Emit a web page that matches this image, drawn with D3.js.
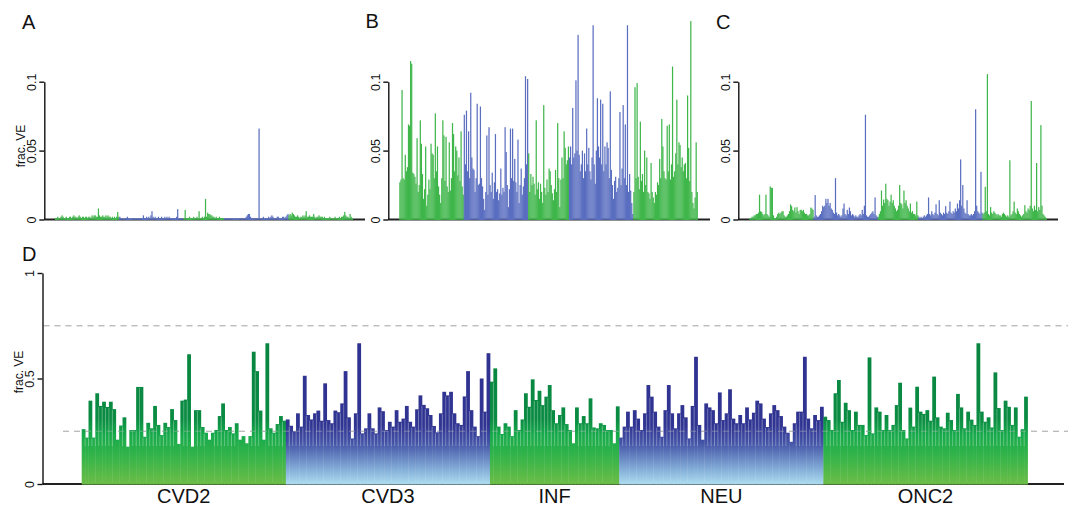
<!DOCTYPE html>
<html>
<head>
<meta charset="utf-8">
<script src="https://cdn.jsdelivr.net/npm/d3@7"></script>
<style>
    body { margin: 0; background: #fff; }
    text { font-family: "Liberation Sans", Arial, Helvetica, sans-serif; fill: #111; }
</style>
</head>
<body>
<div id="chart"></div>
<script>
// groups along the x axis, same order in every panel
const groups = ["CVD2", "CVD3", "INF", "NEU", "ONC2"];
const groupKind = ["green", "blue", "green", "blue", "green"];

const ticksSmall = [0, 0.05, 0.1];
const ticksD = [0, 0.5, 1];
const guidesD = [0.25, 0.75];

// panel A, frac. VE per gene, one array per group
const fracA = [
    [0.001,0.001,0.002,0.001,0.001,0.002,0.003,0.002,0.001,0.001,
     0.002,0.001,0.001,0.002,0.002,0.001,0.002,0.003,0.002,0.002,
     0.001,0.002,0.003,0.002,0.001,0.002,0.002,0.001,0.002,0.002,
     0.001,0.002,0.002,0.001,0.003,0.002,0.003,0.003,0.002,0.002,
     0.008,0.003,0.002,0.002,0.003,0.002,0.002,0.003,0.002,0.003,
     0.002,0.002,0.001,0.002,0.001,0.002,0.001,0.002,0.0055,0.002],
    [0.002,0.001,0.001,0.001,0.0005,0.001,0.001,0.002,0.001,0.001,
     0.0005,0.001,0.001,0.001,0.001,0.0005,0.001,0.001,0.001,0.001,
     0.001,0.001,0.003,0.001,0.001,0.002,0.001,0.002,0.001,0.003,
     0.006,0.002,0.001,0.002,0.001,0.001,0.002,0.001,0.001,0.002,
     0.001,0.001,0.002,0.001,0.002,0.001,0.002,0.001,0.001,0.001,
     0.001,0.001,0.001,0.002,0.0075,0.001,0.001,0.001,0.001,0.001],
    [0.001,0.007,0.001,0.001,0.001,0.002,0.001,0.001,0.001,0.002,
     0.001,0.001,0.002,0.001,0.006,0.001,0.001,0.002,0.001,0.002,
     0.015,0.002,0.005,0.004,0.004,0.003,0.003,0.002,0.002,0.001,
     0.002,0.001,0.001,0.002,0.001,0.001,0.001,0.001],
    [0.001,0.001,0.001,0.0005,0.001,0.001,0.001,0.001,0.0005,0.001,
     0.001,0.001,0.0005,0.001,0.001,0.001,0.001,0.001,0.001,0.001,
     0.002,0.003,0.004,0.004,0.002,0.001,0.001,0.001,0.001,0.001,
     0.001,0.001,0.066,0.001,0.001,0.001,0.002,0.001,0.001,0.001,
     0.001,0.002,0.001,0.002,0.003,0.002,0.001,0.001,0.001,0.002,
     0.002,0.001,0.001,0.001,0.002,0.002,0.001,0.002,0.003,0.004],
    [0.003,0.004,0.003,0.005,0.004,0.003,0.002,0.002,0.003,0.002,
     0.001,0.002,0.002,0.003,0.002,0.003,0.006,0.002,0.002,0.003,
     0.002,0.002,0.002,0.004,0.002,0.001,0.002,0.002,0.003,0.002,
     0.002,0.002,0.001,0.002,0.001,0.001,0.001,0.001,0.002,0.001,
     0.001,0.001,0.001,0.002,0.001,0.001,0.001,0.002,0.001,0.002,
     0.002,0.003,0.0055,0.003,0.002,0.002,0.001,0.004,0.002,0.001]
];

// panel B
const fracB = [
    [0.027,0.029,0.094,0.030,0.029,0.047,0.035,0.038,0.069,0.068,
     0.115,0.113,0.034,0.033,0.031,0.026,0.059,0.020,0.025,0.072,
     0.055,0.033,0.015,0.022,0.053,0.010,0.018,0.029,0.022,0.055,
     0.048,0.047,0.030,0.077,0.035,0.053,0.024,0.018,0.012,0.030,
     0.072,0.061,0.028,0.060,0.024,0.020,0.056,0.021,0.030,0.070,
     0.062,0.035,0.053,0.050,0.032,0.045,0.028,0.064,0.024,0.018],
    [0.076,0.040,0.079,0.035,0.064,0.030,0.092,0.045,0.037,0.036,
     0.020,0.030,0.084,0.025,0.026,0.082,0.030,0.024,0.015,0.007,
     0.020,0.061,0.018,0.067,0.025,0.020,0.034,0.015,0.027,0.062,
     0.020,0.022,0.014,0.019,0.037,0.018,0.023,0.020,0.067,0.049,
     0.025,0.009,0.022,0.066,0.030,0.066,0.028,0.044,0.027,0.020,
     0.058,0.012,0.025,0.037,0.018,0.024,0.030,0.104,0.040,0.102],
    [0.048,0.020,0.033,0.025,0.031,0.026,0.018,0.072,0.022,0.027,
     0.015,0.026,0.020,0.012,0.083,0.023,0.018,0.029,0.020,0.037,
     0.035,0.025,0.019,0.014,0.022,0.036,0.020,0.070,0.030,0.009,
     0.029,0.045,0.030,0.064,0.052,0.040,0.043,0.053],
    [0.045,0.053,0.040,0.081,0.045,0.048,0.101,0.050,0.134,0.047,
     0.035,0.040,0.050,0.030,0.048,0.035,0.066,0.040,0.052,0.035,
     0.029,0.045,0.141,0.040,0.026,0.050,0.088,0.053,0.045,0.087,
     0.040,0.084,0.035,0.053,0.040,0.056,0.052,0.030,0.093,0.036,
     0.025,0.015,0.028,0.031,0.020,0.023,0.030,0.078,0.025,0.037,
     0.083,0.030,0.069,0.025,0.141,0.020,0.033,0.021,0.012,0.004],
    [0.020,0.096,0.030,0.099,0.031,0.022,0.071,0.028,0.033,0.020,
     0.050,0.025,0.045,0.020,0.019,0.015,0.041,0.020,0.016,0.012,
     0.020,0.018,0.027,0.025,0.044,0.030,0.073,0.053,0.035,0.030,
     0.029,0.068,0.035,0.069,0.029,0.040,0.111,0.031,0.035,0.048,
     0.087,0.040,0.056,0.054,0.038,0.045,0.035,0.040,0.041,0.030,
     0.090,0.052,0.028,0.144,0.020,0.012,0.008,0.016,0.056,0.020]
];

// panel C
const fracC = [
    [0.001,0.001,0.002,0.002,0.003,0.003,0.004,0.004,0.005,0.018,
     0.006,0.0055,0.004,0.003,0.004,0.018,0.004,0.003,0.002,0.024,
     0.023,0.023,0.003,0.001,0.001,0.002,0.004,0.005,0.004,0.005,
     0.006,0.006,0.003,0.002,0.002,0.003,0.004,0.006,0.011,0.0097,
     0.007,0.006,0.0087,0.005,0.009,0.006,0.004,0.007,0.007,0.006,
     0.007,0.005,0.004,0.004,0.003,0.003,0.004,0.0087,0.008,0.007],
    [0.002,0.0177,0.003,0.002,0.002,0.003,0.004,0.006,0.010,0.009,
     0.010,0.015,0.012,0.015,0.010,0.012,0.008,0.007,0.005,0.004,
     0.030,0.005,0.003,0.004,0.003,0.002,0.003,0.008,0.0116,0.004,
     0.003,0.007,0.004,0.0087,0.006,0.003,0.004,0.003,0.002,0.003,
     0.002,0.002,0.003,0.004,0.003,0.007,0.004,0.010,0.076,0.003,
     0.002,0.002,0.003,0.004,0.005,0.006,0.004,0.016,0.003,0.002],
    [0.002,0.004,0.006,0.021,0.010,0.0145,0.012,0.026,0.015,0.014,
     0.010,0.013,0.018,0.012,0.014,0.010,0.008,0.006,0.007,0.010,
     0.025,0.012,0.011,0.008,0.021,0.012,0.014,0.010,0.008,0.006,
     0.0116,0.005,0.006,0.004,0.004,0.003,0.013,0.003],
    [0.002,0.001,0.002,0.001,0.002,0.003,0.002,0.003,0.004,0.016,
     0.004,0.003,0.006,0.004,0.003,0.005,0.011,0.004,0.003,0.014,
     0.005,0.004,0.003,0.005,0.004,0.0097,0.005,0.004,0.006,0.013,
     0.005,0.004,0.006,0.005,0.008,0.006,0.0116,0.008,0.014,0.0436,
     0.010,0.025,0.008,0.005,0.004,0.014,0.004,0.003,0.003,0.004,
     0.003,0.004,0.006,0.080,0.010,0.006,0.005,0.004,0.0346,0.005],
    [0.004,0.005,0.0237,0.006,0.1055,0.004,0.003,0.009,0.005,0.004,
     0.006,0.005,0.004,0.003,0.004,0.003,0.003,0.002,0.004,0.005,
     0.004,0.003,0.002,0.003,0.002,0.043,0.003,0.004,0.006,0.013,
     0.005,0.004,0.008,0.006,0.004,0.003,0.002,0.003,0.004,0.0104,
     0.006,0.005,0.008,0.007,0.010,0.086,0.008,0.006,0.010,0.007,
     0.041,0.006,0.009,0.007,0.0685,0.010,0.004,0.003,0.002,0.001]
];

// panel D
const fracD = [
    [0.26,0.22,0.395,0.22,0.43,0.37,0.39,0.365,0.39,0.355,
     0.21,0.277,0.316,0.177,0.256,0.256,0.46,0.46,0.224,0.29,
     0.264,0.37,0.28,0.232,0.29,0.27,0.355,0.303,0.19,0.395,
     0.40,0.615,0.177,0.35,0.35,0.27,0.243,0.21,0.243,0.256,
     0.322,0.382,0.256,0.27,0.24,0.288,0.21,0.227,0.193,0.227,
     0.627,0.535,0.348,0.21,0.667,0.264,0.243,0.284,0.322,0.30],
    [0.306,0.276,0.25,0.335,0.272,0.513,0.327,0.306,0.335,0.348,
     0.30,0.477,0.303,0.288,0.348,0.34,0.382,0.535,0.316,0.216,
     0.335,0.667,0.24,0.264,0.335,0.264,0.24,0.363,0.345,0.256,
     0.295,0.272,0.35,0.295,0.31,0.37,0.295,0.272,0.354,0.42,
     0.375,0.359,0.327,0.275,0.245,0.335,0.437,0.42,0.437,0.335,
     0.288,0.28,0.415,0.535,0.35,0.272,0.227,0.50,0.343,0.62],
    [0.485,0.548,0.272,0.237,0.288,0.272,0.227,0.35,0.256,0.306,
     0.43,0.366,0.496,0.398,0.442,0.374,0.414,0.469,0.35,0.288,
     0.327,0.363,0.284,0.256,0.193,0.363,0.288,0.322,0.288,0.406,
     0.268,0.264,0.288,0.28,0.256,0.256,0.193,0.368],
    [0.22,0.272,0.343,0.272,0.35,0.31,0.256,0.335,0.469,0.414,
     0.343,0.272,0.224,0.35,0.469,0.335,0.264,0.335,0.374,0.316,
     0.216,0.37,0.603,0.28,0.21,0.382,0.363,0.35,0.288,0.434,
     0.303,0.335,0.449,0.31,0.288,0.327,0.288,0.363,0.306,0.338,
     0.395,0.382,0.31,0.27,0.335,0.374,0.35,0.322,0.272,0.243,
     0.2,0.288,0.343,0.343,0.603,0.31,0.264,0.327,0.303,0.366],
    [0.319,0.303,0.256,0.43,0.493,0.295,0.385,0.35,0.256,0.343,
     0.28,0.28,0.232,0.60,0.24,0.363,0.343,0.256,0.327,0.256,
     0.28,0.374,0.48,0.256,0.216,0.362,0.272,0.461,0.343,0.332,
     0.35,0.30,0.509,0.316,0.272,0.264,0.338,0.303,0.256,0.427,
     0.363,0.264,0.343,0.305,0.28,0.667,0.343,0.295,0.316,0.268,
     0.529,0.36,0.256,0.395,0.366,0.28,0.363,0.224,0.26,0.414]
];

var svg = d3.select("#chart")
    .append("svg")
    .attr("width", 1070)
    .attr("height", 511);

var defs = svg.append("defs");

var panels = [
    { id: "A", data: fracA, axisX: 44.3, x0: 55, x1: 352.7, tail: 365, base: 219.5, top: 81.7,
      domain: [0, 0.1], ticks: ticksSmall, letter: [22, 29], ylab: [24.5, 146] },
    { id: "B", data: fracB, axisX: 388.3, x0: 399.3, x1: 697.7, tail: 710, base: 219.5, top: 81.7,
      domain: [0, 0.1], ticks: ticksSmall, letter: [365.5, 28] },
    { id: "C", data: fracC, axisX: 738.3, x0: 749.3, x1: 1046.7, tail: 1058, base: 219.5, top: 81.7,
      domain: [0, 0.1], ticks: ticksSmall, letter: [716, 29] },
    { id: "D", data: fracD, axisX: 42.5, x0: 81.7, x1: 1027.5, tail: 1064, base: 484, top: 273,
      domain: [0, 1], ticks: ticksD, letter: [22, 261], ylab: [23, 372], gradient: true }
];

// gradients for panel D, stops given as [value, colour]
var yD = d3.scaleLinear().domain([0, 1]).range([484, 273]);
var gradStops = {
    green: [[1, "#06803e"], [0.31, "#0a8b42"], [0.23, "#17aa4b"], [0.13, "#35b44a"], [0, "#6bbd46"]],
    blue: [[1, "#2d2e8e"], [0.28, "#313592"], [0.2, "#4251a5"], [0.08, "#7ea6d4"], [0, "#acdcef"]]
};
Object.keys(gradStops).forEach(function (k) {
    var lg = defs.append("linearGradient")
        .attr("id", "grad-" + k)
        .attr("gradientUnits", "userSpaceOnUse")
        .attr("x1", 0).attr("x2", 0)
        .attr("y1", yD(1)).attr("y2", yD(0));
    lg.selectAll("stop")
        .data(gradStops[k])
        .enter().append("stop")
        .attr("offset", d => 1 - d[0])
        .attr("stop-color", d => d[1]);
});

var flatColor = { green: "#3fb64a", blue: "#5a6ec0" };

panels.forEach(function (p) {
    var bars = [];
    p.data.forEach(function (vals, g) {
        vals.forEach(function (v, i) {
            bars.push({ g: g, i: i, v: v, key: g + "-" + i });
        });
    });

    var x = d3.scaleBand()
        .domain(bars.map(d => d.key))
        .range([p.x0, p.x1])
        .padding(0);

    var y = d3.scaleLinear()
        .domain(p.domain)
        .range([p.base, p.top]);

    var g = svg.append("g").attr("class", "panel-" + p.id);

    // baseline
    g.append("line")
        .attr("x1", p.axisX).attr("x2", p.tail)
        .attr("y1", y(0)).attr("y2", y(0))
        .attr("stroke", "#222")
        .attr("stroke-width", 2);

    if (p.gradient) {
        g.selectAll(".guide-back")
            .data(guidesD)
            .enter().append("line")
            .attr("class", "guide-back")
            .attr("x1", d => d < 0.5 ? 63 : p.axisX + 1).attr("x2", 1068)
            .attr("y1", d => y(d)).attr("y2", d => y(d))
            .attr("stroke", "#a8a8a8")
            .attr("stroke-dasharray", "6,5");
    }

    g.selectAll(".bar")
        .data(bars)
        .enter().append("rect")
        .attr("class", "bar")
        .attr("x", d => x(d.key))
        .attr("width", x.bandwidth() + (p.gradient ? 0.4 : 0.15))
        .attr("y", d => y(d.v))
        .attr("height", d => y(0) - y(d.v) + 0.5)
        .attr("fill", d => p.gradient ? "url(#grad-" + groupKind[d.g] + ")" : flatColor[groupKind[d.g]]);

    if (p.gradient) {
        // thin light seams between neighbouring bars
        var seams = [];
        bars.forEach(function (d, k) {
            var n = bars[k + 1];
            if (!n || n.g !== d.g) return;
            var m = Math.min(d.v, n.v);
            if (m > 0.21) seams.push({ key: n.key, m: m });
        });
        g.selectAll(".seam")
            .data(seams)
            .enter().append("line")
            .attr("class", "seam")
            .attr("x1", d => x(d.key)).attr("x2", d => x(d.key))
            .attr("y1", d => y(d.m) + 1).attr("y2", y(0.18))
            .attr("stroke", "#fff")
            .attr("stroke-opacity", 0.5)
            .attr("stroke-width", 0.6);

        g.selectAll(".guide-front")
            .data(guidesD)
            .enter().append("line")
            .attr("class", "guide-front")
            .attr("x1", d => d < 0.5 ? 63 : p.axisX + 1).attr("x2", 1068)
            .attr("y1", d => y(d)).attr("y2", d => y(d))
            .attr("stroke", "#bbb")
            .attr("stroke-opacity", 0.45)
            .attr("stroke-dasharray", "6,5");

        // group names under the bars
        g.selectAll(".group-label")
            .data(groups)
            .enter().append("text")
            .attr("class", "group-label")
            .attr("x", function (name, gi) {
                var keys = bars.filter(b => b.g === gi).map(b => b.key);
                return (x(keys[0]) + x(keys[keys.length - 1]) + x.bandwidth()) / 2;
            })
            .attr("y", 503)
            .attr("text-anchor", "middle")
            .attr("font-size", 20)
            .text(d => d);
    }

    // y axis
    var axis = g.append("g")
        .attr("transform", "translate(" + p.axisX + ",0)")
        .call(d3.axisLeft(y).tickValues(p.ticks).tickSize(5).tickSizeOuter(0).tickFormat(d => String(d)));
    axis.select(".domain").attr("stroke", "#111").attr("stroke-width", 1.4);
    axis.selectAll(".tick line").attr("stroke", "#111").attr("stroke-width", 1.4);
    axis.selectAll(".tick text")
        .attr("x", null)
        .attr("dy", null)
        .attr("y", -8.5)
        .attr("transform", "rotate(-90)")
        .attr("text-anchor", "middle")
        .attr("font-size", 12.5)
        .attr("font-family", "Liberation Sans, Arial, sans-serif")
        .attr("fill", "#111");

    if (p.ylab) {
        g.append("text")
            .attr("transform", "translate(" + p.ylab[0] + "," + p.ylab[1] + ") rotate(-90)")
            .attr("text-anchor", "middle")
            .attr("font-size", 12)
            .text("frac. VE");
    }

    g.append("text")
        .attr("x", p.letter[0])
        .attr("y", p.letter[1])
        .attr("font-size", 20)
        .text(p.id);
});
</script>
</body>
</html>
